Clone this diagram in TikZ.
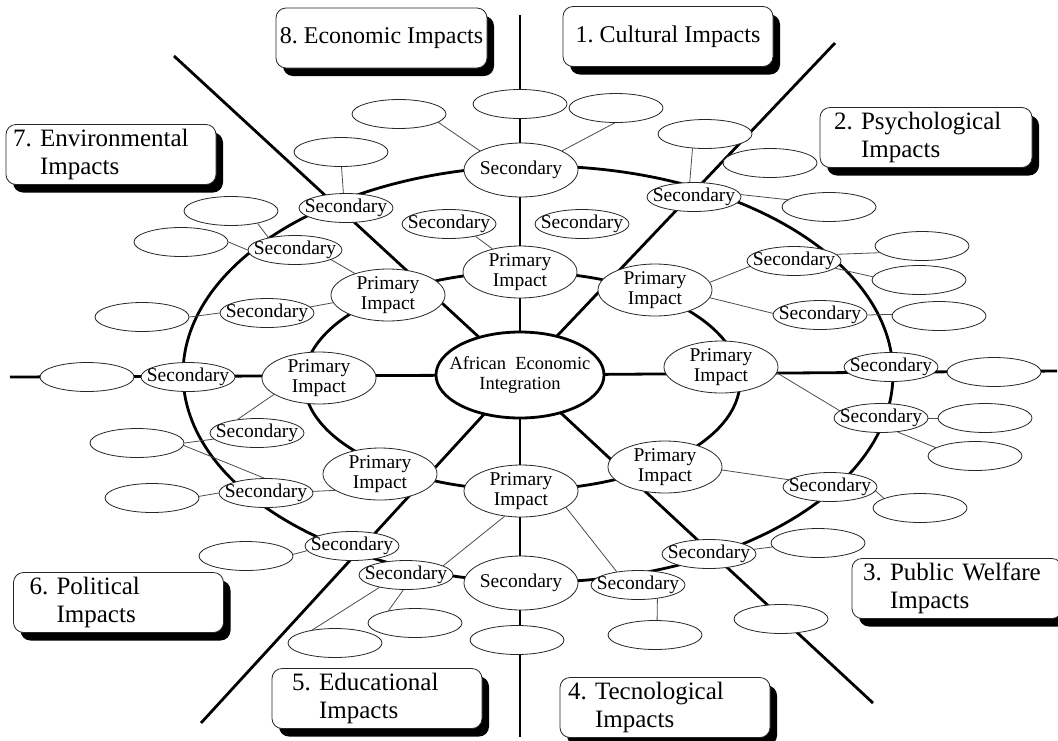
\documentclass[tikz,border=0pt]{standalone}
\usepackage{fontspec}
\setmainfont{Liberation Serif}
\usetikzlibrary{shapes.geometric,shadows}
\pgfdeclarelayer{background}
\pgfsetlayers{background,main}
\frenchspacing
\begin{document}
\begin{tikzpicture}[x=1pt,y=-1pt,
  txs/.style={font=\fontsize{19.5}{20.5}\selectfont, inner sep=0pt, align=center},
  txc/.style={font=\fontsize{18.5}{19.5}\selectfont, inner sep=0pt, align=center},
  nodeline/.style={draw=black!85, line width=0.8pt, fill=white},
  emp/.style={ellipse, nodeline, minimum width=94pt, minimum height=29pt, inner sep=0pt},
  sec/.style={emp, label={[txs]center:Secondary}},
  bigsec/.style={sec, minimum width=114pt, minimum height=54pt},
  prim/.style={ellipse, nodeline, minimum width=114pt, minimum height=52pt, inner sep=0pt, label={[txs]center:Primary\\Impact}},
  cen/.style={ellipse, draw=black, line width=2.8pt, fill=white, minimum width=168pt, minimum height=86pt, inner sep=0pt, label={[txc]center:African\ \ Economic\\Integration}},
  tbox/.style={draw=black!85, line width=0.8pt, fill=white, rounded corners=10pt,
    drop shadow={shadow xshift=7pt, shadow yshift=-8pt, opacity=1, fill=black},
    minimum height=60pt, inner ysep=2pt, align=left, font=\fontsize{25}{28}\selectfont},
  tbone/.style={tbox, align=center, font=\fontsize{24}{27}\selectfont},
  spoke/.style={line width=2.8pt, line cap=butt},
  ring/.style={line width=2.8pt},
  thin/.style={draw=black!70, line width=0.8pt}
]
\useasboundingbox (0,0) rectangle (1058,740);

% title boxes
\node[tbone, minimum width=211pt] (b8) at (381.5,38) {8. Economic Impacts};
\node[tbone, minimum width=210pt] (b1) at (668,36.5) {1. Cultural Impacts};
\node[tbox, text width=184pt, inner xsep=14pt] (b2) at (926,137.5) {2. Psychological\\\hphantom{2. }Impacts};
\node[tbox, text width=196pt, inner xsep=7pt] (b7) at (111,154.5) {7. Environmental\\\hphantom{7. }Impacts};
\node[tbox, text width=178pt, inner xsep=16pt] (b6) at (118.5,602.5) {6. Political\\\hphantom{6. }Impacts};
\node[tbox, text width=170pt, inner xsep=20pt] (b5) at (377,698.5) {5. Educational\\\hphantom{5. }Impacts};
\node[tbox, text width=194pt, inner xsep=8pt] (b4) at (665,707.5) {4. Tecnological\\\hphantom{4. }Impacts};
\node[tbox, text width=188pt, inner xsep=11pt] (b3) at (957,588.5) {3. Public Welfare\\\hphantom{3. }Impacts};

% centre
\node[cen] (c) at (520,375) {};

% primary impacts
\node[prim] (p1) at (520,272) {};
\node[prim] (p2) at (655,290) {};
\node[prim] (p3) at (721,367) {};
\node[prim] (p4) at (665,467) {};
\node[prim] (p5) at (521,491) {};
\node[prim] (p6) at (380,474) {};
\node[prim] (p7) at (319,378) {};
\node[prim] (p8) at (388,295) {};

% secondary
\node[bigsec] (st) at (521,170) {};
\node[bigsec] (sb) at (521,583) {};
\node[sec] (s1a) at (449,224) {};
\node[sec] (s1b) at (582,224) {};
\node[sec] (s2a) at (694,197) {};
\node[sec] (s2b) at (794,261) {};
\node[sec] (s2c) at (820,315) {};
\node[sec] (s3a) at (891,367) {};
\node[sec] (s3b) at (881,418) {};
\node[sec] (s3c) at (830,487) {};
\node[sec] (s4a) at (709,554) {};
\node[sec] (s4b) at (638,585) {};
\node[sec] (s5a) at (406,575) {};
\node[sec] (s5b) at (352,546) {};
\node[sec] (s6a) at (266,493) {};
\node[sec] (s6b) at (257,433) {};
\node[sec] (s6c) at (188,377) {};
\node[sec] (s7a) at (267,313) {};
\node[sec] (s7b) at (295,250) {};
\node[sec] (s7c) at (346,208) {};

% empty ellipses
\node[emp] (e1) at (399,114) {};
\node[emp] (e2) at (520,104) {};
\node[emp] (e3) at (616,108) {};
\node[emp] (e4) at (705,134) {};
\node[emp] (e5) at (770,163) {};
\node[emp] (e6) at (829,207) {};
\node[emp] (e7) at (922,246) {};
\node[emp] (e8) at (919,280) {};
\node[emp] (e9) at (939,316) {};
\node[emp] (e10) at (994,372) {};
\node[emp] (e11) at (985,418) {};
\node[emp] (e12) at (975,456) {};
\node[emp] (e13) at (920,508) {};
\node[emp] (e14) at (818,543) {};
\node[emp] (e15) at (781,619) {};
\node[emp] (e16) at (655,635) {};
\node[emp] (e17) at (517,640) {};
\node[emp] (e18) at (415,623) {};
\node[emp] (e19) at (335,643) {};
\node[emp] (e20) at (246,556) {};
\node[emp] (e21) at (152,498) {};
\node[emp] (e22) at (137,443) {};
\node[emp] (e23) at (87,377) {};
\node[emp] (e24) at (142,317) {};
\node[emp] (e25) at (181,242) {};
\node[emp] (e26) at (231,211) {};
\node[emp] (e27) at (341,152) {};

% spoke ends
\coordinate (nN) at (520,15);
\coordinate (nS) at (520,737);
\coordinate (nE) at (1057,371);
\coordinate (nW) at (10,377);
\coordinate (nNE) at (835,43);
\coordinate (nNW) at (174,56);
\coordinate (nSE) at (873,703);
\coordinate (nSW) at (201,723);
\coordinate (ri) at (522,381);
\coordinate (ro) at (538,374);

\begin{pgfonlayer}{background}
  \draw[ring] (ri) ellipse [x radius=218pt, y radius=109pt];
  \draw[ring] (ro) ellipse [x radius=355pt, y radius=208pt];
  \foreach \e in {nN,nS,nE,nW,nNE,nNW,nSE,nSW}
    \draw[spoke] (c.center) -- (\e);
  % thin connectors
  \draw[thin] (e1.-12) -- (st.155);
  \draw[thin] (e3.-95) -- (st.25);
  \draw[thin] (s1a.-25) -- (p1.140);
  \draw[thin] (e4.-131) -- (s2a.106);
  \draw[thin] (s2a.3) -- (e6.170);
  \draw[thin] (p2.8) -- (s2b.-173);
  \draw[thin] (s2b.9) -- (e7.-171);
  \draw[thin] (s2b.-10) -- (e8.176);
  \draw[thin] (p2.-8) -- (s2c.178);
  \draw[thin] (s2c.0) -- (e9.178);
  \draw[thin] (p3.-6) -- (s3b.170);
  \draw[thin] (s3b.0) -- (e11.180);
  \draw[thin] (s3b.-40) -- (e12.168);
  \draw[thin] (p4.-3) -- (s3c.170);
  \draw[thin] (s3c.-5) -- (e13.165);
  \draw[thin] (s4a.6) -- (e14.-175);
  \draw[thin] (p5.-20) -- (s4b.148);
  \draw[thin] (s4b.-35) -- (e16.82);
  \draw[thin] (p5.-123) -- (s5a.14);
  \draw[thin] (s5a.-155) -- (e19.150);
  \draw[thin] (s5a.-100) -- (e18.155);
  \draw[thin] (e20.2) -- (s5b.-174);
  \draw[thin] (s6a.2) -- (p6.-160);
  \draw[thin] (e21.2) -- (s6a.180);
  \draw[thin] (e22.0) -- (s6b.-172);
  \draw[thin] (e22.-3) -- (s6a.97);
  \draw[thin] (p7.-160) -- (s6b.145);
  \draw[thin] (e24.0) -- (s7a.180);
  \draw[thin] (s7a.8) -- (p8.-172);
  \draw[thin] (e25.0) -- (s7b.180);
  \draw[thin] (e26.-25) -- (s7b.155);
  \draw[thin] (s7b.-15) -- (p8.147);
  \draw[thin] (e27.-88) -- (s7c.100);
\end{pgfonlayer}
\end{tikzpicture}
\end{document}
